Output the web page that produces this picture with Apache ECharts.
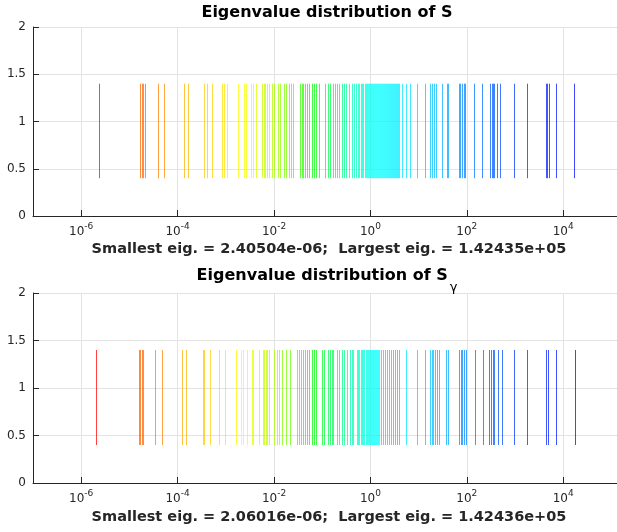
<!DOCTYPE html>
<html>
<head>
<meta charset="utf-8">
<script src="https://cdn.jsdelivr.net/npm/echarts@6/dist/echarts.min.js"></script>
<style>
  html, body { margin: 0; padding: 0; background: #fff; }
  #chart { width: 617px; height: 532px; }
</style>
</head>
<body>
<div id="chart"></div>
<script>
// Eigenvalues of S (sorted ascending)
const eigS = [
  2.40504e-6,
  1.724e-5, 1.851e-5, 1.990e-5, 2.168e-5,
  4.035e-5, 5.425e-5,
  1.397e-4, 1.708e-4,
  3.666e-4, 4.132e-4, 5.247e-4,
  8.665e-4, 9.309e-4, 1.110e-3,
  1.843e-3, 2.443e-3, 2.662e-3,
  3.333e-3, 3.774e-3, 4.355e-3,
  5.855e-3, 6.291e-3, 6.760e-3, 7.261e-3, 7.990e-3,
  9.220e-3, 1.0144e-2, 1.228e-2, 1.384e-2,
  1.675e-2, 1.799e-2, 2.077e-2, 2.285e-2, 2.514e-2,
  3.512e-2, 3.810e-2, 4.112e-2, 4.459e-2, 4.979e-2, 5.477e-2,
  6.142e-2, 6.857e-2, 7.652e-2, 8.705e-2,
  0.1176, 0.1358, 0.1472,
  0.1724, 0.1870, 0.2028, 0.2296, 0.2575, 0.2874, 0.3239, 0.3650, 0.4212, 0.4634, 0.5099,
  0.569, 0.606, 0.647, 0.686, 0.730, 0.776, 0.822, 0.875, 0.922, 0.972,
  1.024, 1.069, 1.127, 1.176, 1.234, 1.288, 1.358, 1.417, 1.494, 1.560,
  1.644, 1.724, 1.800, 1.897, 1.990, 2.077, 2.189, 2.296, 2.397, 2.527,
  2.650, 2.766, 2.915, 3.058, 3.192, 3.365, 3.529, 3.684, 3.883, 4.074,
  4.589, 5.691, 6.889, 9.265,
  13.97, 17.49, 19.71, 21.17, 23.29, 31.78, 38.84, 41.92,
  69.91, 75.08, 81.83, 88.74, 95.34,
  146.6, 214.8,
  302.9, 334.9, 359.7, 381.0, 439.7, 490.0,
  976.4, 1774,
  4460, 4746, 5148, 7193,
  17405,
  142435
];

// Eigenvalues of S_gamma (sorted ascending)
const eigSgamma = [
  2.06016e-6,
  1.628e-5, 1.740e-5, 1.851e-5, 1.970e-5,
  3.496e-5, 4.746e-5,
  1.234e-4, 1.516e-4,
  3.365e-4, 3.580e-4, 4.770e-4,
  7.329e-4, 9.906e-4,
  1.651e-3, 2.067e-3, 2.340e-3, 2.753e-3,
  3.496e-3, 3.774e-3, 5.026e-3,
  5.912e-3, 6.291e-3, 6.823e-3, 7.366e-3, 8.105e-3,
  1.0144e-2, 1.188e-2, 1.306e-2, 1.487e-2, 1.799e-2, 2.179e-2,
  3.000e-2, 3.302e-2, 3.632e-2, 3.996e-2, 4.396e-2, 4.837e-2, 5.477e-2, 6.142e-2, 6.857e-2, 7.541e-2,
  9.906e-2, 0.1105,
  0.1358, 0.1472, 0.1597, 0.1724,
  0.2028, 0.2296, 0.2575, 0.2874,
  0.3317, 0.3828, 0.4152, 0.4482,
  0.535, 0.566, 0.603, 0.641, 0.679, 0.723, 0.765, 0.814, 0.862, 0.905,
  0.958, 1.010, 1.064, 1.116, 1.182, 1.240, 1.300, 1.364, 1.431, 1.501,
  1.574, 1.660, 1.732, 1.826, 1.906, 2.009, 2.097, 2.211, 2.307, 2.432,
  2.539, 2.676, 2.793, 2.944, 3.073, 3.239, 3.381, 3.563, 3.720, 3.921, 4.093,
  5.477, 9.265, 13.77,
  17.49, 18.97, 20.48, 22.21, 24.08, 27.28,
  37.56, 40.74,
  69.91, 75.80, 81.83, 88.74, 96.25,
  147.9, 216.8,
  297.2, 317.8, 349.7, 372.0, 444.0, 537.5,
  981.1, 1774,
  4460, 4909, 7193,
  17570,
  142436
];

// Each eigenvalue is drawn as a vertical stroke spanning this y range
const strokeLow = 0.4;
const strokeHigh = 1.4;

// Visible x range and decade tick positions
const xMin = 1e-7;
const xMax = 1.306e5;
const xTicks = [1e-6, 1e-4, 1e-2, 1e0, 1e2, 1e4];

const titles = ['Eigenvalue distribution of S', 'Eigenvalue distribution of S'];
const titleSub = ['', 'γ'];
const xLabels = [
  'Smallest eig. = 2.40504e-06;  Largest eig. = 1.42435e+05',
  'Smallest eig. = 2.06016e-06;  Largest eig. = 1.42436e+05'
];

// Hue ramp (red -> blue) indexed by log10 of the eigenvalue
const hueStops = [
  [-5.7, 0], [-4.7, 25], [-4.3, 32], [-3.85, 42], [-3.2, 50], [-2.6, 62],
  [-2.0, 80], [-1.6, 100], [-1.2, 120], [-0.8, 140], [-0.4, 160], [0.0, 178],
  [0.6, 184], [1.0, 190], [1.5, 198], [2.0, 210], [2.5, 218], [3.0, 228],
  [4.3, 238], [5.2, 240]
];

function hueFor(v) {
  const l = Math.log10(v);
  if (l <= hueStops[0][0]) return hueStops[0][1];
  for (let i = 1; i < hueStops.length; i++) {
    if (l <= hueStops[i][0]) {
      const a = hueStops[i - 1], b = hueStops[i];
      const t = (l - a[0]) / (b[0] - a[0]);
      return a[1] + t * (b[1] - a[1]);
    }
  }
  return hueStops[hueStops.length - 1][1];
}

function hsvToRgb(h) {
  const c = 1, x = 1 - Math.abs(((h / 60) % 2) - 1);
  let r = 0, g = 0, b = 0;
  if (h < 60) { r = c; g = x; }
  else if (h < 120) { r = x; g = c; }
  else if (h < 180) { g = c; b = x; }
  else if (h < 240) { g = x; b = c; }
  else { r = x; b = c; }
  return 'rgb(' + Math.round(r * 255) + ',' + Math.round(g * 255) + ',' + Math.round(b * 255) + ')';
}

const FONT = 'DejaVu Sans';
const AXIS_COLOR = '#262626';
const GRID_COLOR = '#e3e3e3';

const grids = [
  { left: 33, top: 27, right: 0, height: 189 },
  { left: 33, top: 293, right: 0, height: 190 }
];
const titleTops = [5, 258];
const xLabelTops = [242, 510];

function xAxisFor(idx) {
  return {
    type: 'log',
    logBase: 10,
    gridIndex: idx,
    min: xMin,
    max: xMax,
    axisLine: { show: true, onZero: false, lineStyle: { color: AXIS_COLOR, width: 1 } },
    axisTick: { show: true, inside: true, length: 6, customValues: xTicks, lineStyle: { color: AXIS_COLOR } },
    axisLabel: {
      show: true,
      customValues: xTicks,
      margin: 6,
      formatter: function (v) {
        const e = Math.round(Math.log10(v));
        return '{b|10}{s|' + e + '}';
      },
      rich: {
        b: { fontFamily: FONT, fontSize: 12, color: AXIS_COLOR, lineHeight: 20 },
        s: { fontFamily: FONT, fontSize: 9, color: AXIS_COLOR, lineHeight: 8, verticalAlign: 'top' }
      }
    },
    splitLine: { show: true, customValues: xTicks, lineStyle: { color: GRID_COLOR, width: 1 } }
  };
}

function yAxisFor(idx) {
  return {
    type: 'value',
    gridIndex: idx,
    min: 0,
    max: 2,
    interval: 0.5,
    axisLine: { show: true, lineStyle: { color: AXIS_COLOR, width: 1 } },
    axisTick: { show: true, inside: true, length: 6, lineStyle: { color: AXIS_COLOR } },
    axisLabel: { margin: 7, fontFamily: FONT, fontSize: 12, color: AXIS_COLOR },
    splitLine: { show: true, lineStyle: { color: GRID_COLOR, width: 1 } }
  };
}

function strokeSeries(idx, eigs) {
  return {
    type: 'custom',
    xAxisIndex: idx,
    yAxisIndex: idx,
    clip: true,
    silent: true,
    data: eigs.map(v => [v, strokeLow, strokeHigh]),
    encode: { x: 0, y: [1, 2] },
    renderItem: function (params, api) {
      const v = api.value(0);
      const p0 = api.coord([v, api.value(1)]);
      const p1 = api.coord([v, api.value(2)]);
      // align the 1px stroke to the pixel grid so it stays crisp
      const px = Math.floor(p0[0]) + 0.5;
      return {
        type: 'line',
        shape: { x1: px, y1: p0[1], x2: px, y2: p1[1] },
        style: { stroke: hsvToRgb(hueFor(v)), lineWidth: 1, opacity: 0.75 }
      };
    }
  };
}

const titleOpts = [];
[0, 1].forEach(i => {
  titleOpts.push({
    text: titleSub[i] ? '{b|' + titles[i] + '}{s|' + titleSub[i] + '}' : titles[i],
    left: 327,
    top: titleTops[i],
    padding: 0,
    textAlign: 'center',
    textVerticalAlign: 'top',
    textStyle: {
      fontFamily: FONT, fontSize: 16, fontWeight: 'bold', color: '#000',
      lineHeight: titleSub[i] ? 36 : 16,
      rich: {
        b: { fontFamily: FONT, fontSize: 16, fontWeight: 'bold', color: '#000', lineHeight: 36 },
        s: { fontFamily: FONT, fontSize: 13, fontWeight: 'normal', color: '#000', lineHeight: 14, verticalAlign: 'bottom', padding: [0, 0, 0, 2] }
      }
    }
  });
  titleOpts.push({
    text: xLabels[i],
    left: 329,
    top: xLabelTops[i],
    padding: 0,
    textAlign: 'center',
    textVerticalAlign: 'top',
    textStyle: { fontFamily: FONT, fontSize: 14.5, fontWeight: 'bold', color: AXIS_COLOR, lineHeight: 15 }
  });
});

const chart = echarts.init(document.getElementById('chart'), null, { renderer: 'canvas' });
chart.setOption({
  animation: false,
  backgroundColor: '#fff',
  title: titleOpts,
  grid: grids,
  xAxis: [xAxisFor(0), xAxisFor(1)],
  yAxis: [yAxisFor(0), yAxisFor(1)],
  series: [strokeSeries(0, eigS), strokeSeries(1, eigSgamma)]
});
</script>
</body>
</html>
